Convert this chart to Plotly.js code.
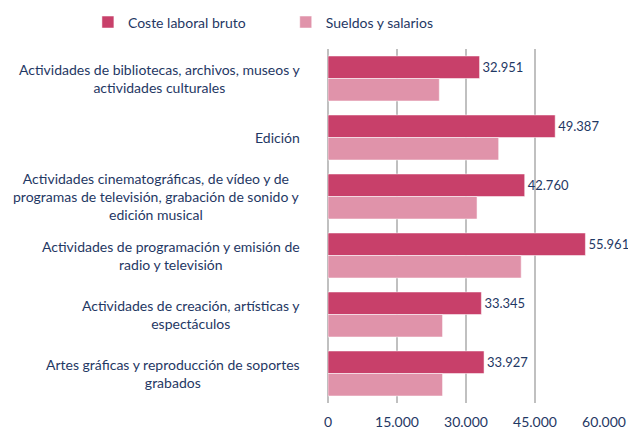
<!DOCTYPE html>
<html><head><meta charset="utf-8">
<script src="https://cdn.plot.ly/plotly-3.0.1.min.js"></script>
<style>html,body{margin:0;padding:0;background:#fff}#chart{width:628px;height:429px}</style>
</head><body><div id="chart"></div>
<script>
var categories = [
  "Actividades de bibliotecas, archivos, museos y<br>actividades culturales",
  "Edición",
  "Actividades cinematográficas, de vídeo y de<br>programas de televisión, grabación de sonido y<br>edición musical",
  "Actividades de programación y emisión de<br>radio y televisión",
  "Actividades de creación, artísticas y<br>espectáculos",
  "Artes gráficas y reproducción de soportes<br>grabados"
];
var seriesNames = ["Coste laboral bruto", "Sueldos y salarios"];
var coste = [32951, 49387, 42760, 55961, 33345, 33927];
var sueldos = [24200, 37100, 32400, 42000, 24900, 24900];
var tickVals = [0, 15000, 30000, 45000, 60000];

var navy = "#1F3864";
var fontFam = "Lato, 'Open Sans', sans-serif";

var traces = [
  {type:"bar", orientation:"h", name:seriesNames[0], y:categories, x:coste, legend:"legend",
   marker:{color:"#C8406A", line:{color:"rgba(255,255,255,0.5)", width:1}},
   texttemplate:"%{x:,.0f}", textposition:"outside", cliponaxis:false,
   constraintext:"none", textfont:{color:navy, size:13, family:fontFam}, hoverinfo:"x+y"},
  {type:"bar", orientation:"h", name:seriesNames[1], y:categories, x:sueldos, legend:"legend2",
   marker:{color:"#E093AA", line:{color:"rgba(255,255,255,0.5)", width:1}},
   hoverinfo:"x+y"}
];

var annotations = categories.map(function(c){
  return {xref:"paper", yref:"y", x:0, y:c, xanchor:"right", yanchor:"middle",
          xshift:-26, text:c, align:"center", showarrow:false,
          font:{color:navy, size:14, family:fontFam}};
});

function legendAt(x){
  return {orientation:"h", xref:"container", yref:"container", x:x, xanchor:"left",
          y:0.985, yanchor:"top", bgcolor:"rgba(0,0,0,0)",
          font:{color:navy, size:14, family:fontFam}};
}

var layout = {
  width:628, height:429,
  margin:{l:328, r:24, t:49, b:26, autoexpand:false},
  separators:",.",
  paper_bgcolor:"#fff", plot_bgcolor:"#fff",
  barmode:"group", bargap:0.237, bargroupgap:0,
  font:{family:fontFam, color:navy, size:14},
  xaxis:{range:[0,60000], tickvals:tickVals, tickformat:",.0f", showgrid:true,
         gridcolor:"#C0C0C0", gridwidth:1.2, zeroline:true, zerolinecolor:"#C0C0C0", zerolinewidth:1.2,
         showline:false, ticks:"outside", ticklen:6, tickcolor:"rgba(0,0,0,0)",
         tickfont:{color:navy, size:14, family:fontFam}, fixedrange:true},
  yaxis:{autorange:"reversed", showticklabels:false, showgrid:false, zeroline:false, ticks:"", fixedrange:true},
  legend:legendAt(0.14),
  legend2:legendAt(0.455),
  showlegend:true,
  annotations:annotations
};

Plotly.newPlot("chart", traces, layout, {staticPlot:true, displayModeBar:false});
</script></body></html>
